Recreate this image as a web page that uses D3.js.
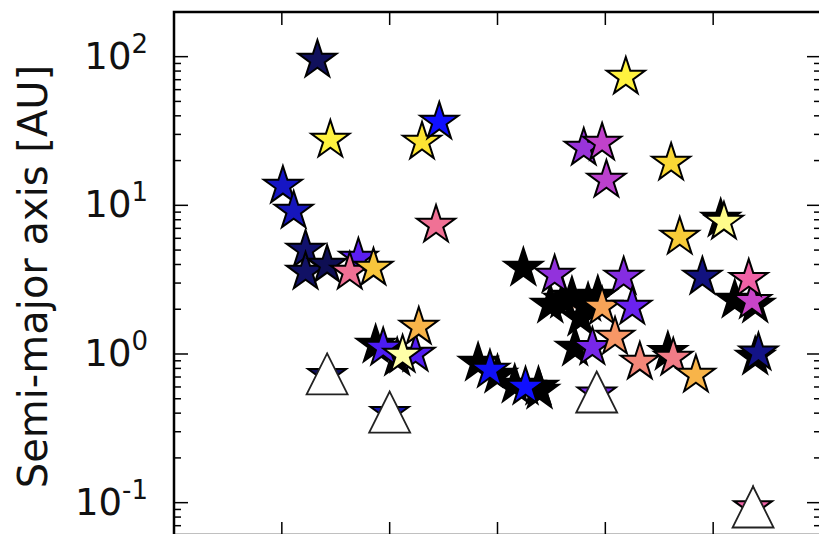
<!DOCTYPE html>
<html>
<head>
<meta charset="utf-8">
<script src="https://cdn.jsdelivr.net/npm/d3@7"></script>
<style>
  html, body { margin: 0; padding: 0; background: #ffffff; }
  svg { display: block; }
</style>
</head>
<body>
<svg id="chart" width="819" height="534"></svg>
<script>
// ---------------- DATA ----------------
// x: position along the (unlabelled) horizontal axis, in tick units
// a: semi-major axis [AU]
// c: colour value (0 = black ... 1 = pale yellow)
const starX = [
  3.24, 3.61, 3.84, 3.77, 3.72, 2.82, 3.16, 3.38, 1.87, 2.07, 5.20, 5.39, 5.39, 4.58, 5.07,
  3.49, 3.69, 3.93, 3.00, 3.39,
  1.33, 1.45, 1.01, 1.11, 1.22, 1.22, 1.42, 1.71, 1.63, 1.85,
  2.30, 2.46, 2.43,
  1.94, 2.24, 2.27, 2.12,
  2.93, 3.26,
  3.53, 4.17, 3.97, 4.25, 3.88, 4.09, 4.32, 4.63, 4.84,
  4.90, 5.36, 5.33, 5.42,
  4.19, 3.80, 3.97, 4.01, 4.61, 5.10, 4.69,
  1.42, 2.00, 3.92, 5.37
];
const starA = [
  3.79, 2.31, 2.20, 1.75, 1.10, 0.87, 0.62, 0.60, 1.15, 0.94, 2.31, 2.14, 0.955, 1.03, 8.09,
  2.14, 2.42, 2.46, 0.722, 0.564,
  94.9, 27.5, 13.5, 9.16, 5.01, 3.56, 3.97, 4.42, 3.56, 3.79,
  26.7, 36.4, 7.37,
  1.10, 1.00, 1.52, 0.985,
  0.78, 0.60,
  3.40, 3.30, 2.07, 2.07, 1.11, 1.30, 0.884, 0.94, 0.722,
  3.30, 2.27, 3.19, 1.02,
  73.0, 24.3, 26.3, 14.8, 19.3, 7.73, 6.12,
  0.72, 0.40, 0.54, 0.093
];
const starC = [
  0, 0, 0, 0, 0, 0, 0, 0, 0, 0, 0, 0, 0, 0, 0,
  0, 0, 0, 0, 0,
  0.10, 0.93, 0.22, 0.21, 0.12, 0.11, 0.09, 0.38, 0.66, 0.85,
  0.90, 0.28, 0.66,
  0.36, 0.37, 0.82, 1.00,
  0.27, 0.28,
  0.46, 0.44, 0.79, 0.40, 0.42, 0.76, 0.72, 0.69, 0.82,
  0.14, 0.54, 0.62, 0.15,
  0.93, 0.47, 0.53, 0.52, 0.88, 0.98, 0.86,
  0.10, 0.20, 0.42, 0.62
];
// upper-limit style open triangles
const limitX = [1.42, 2.00, 3.92, 5.37];
const limitA = [0.734, 0.407, 0.555, 0.0935];
// a single horizontal error bar
const errX0 = [3.58];
const errX1 = [3.97];
const errA  = [2.07];

const yTickVals = [0.1, 1, 10, 100];
const yTickExp  = ["-1", "0", "1", "2"];
const xTickVals = [1, 2, 3, 4, 5];

// ---------------- LAYOUT ----------------
const W = 819, H = 534;
const mLeft = 174, mTop = 12, mRight = 821, mBottom = 535;

const svg = d3.select("#chart");

const x = d3.scaleLinear().domain([0, 6]).range([mLeft, mRight]);
const y = d3.scaleLog().domain([0.0606, 199.7]).range([mBottom, mTop]);

const palStops = [0, 0.10, 0.22, 0.28, 0.40, 0.46, 0.54, 0.62, 0.68, 0.74, 0.80, 0.86, 0.92, 1.0];
const palCols  = ["#000000", "#10105c", "#1616c4", "#1010ff", "#6a22ee", "#9232dc", "#c844c8",
                  "#f062a6", "#f0788c", "#f68e70", "#f8a852", "#f8cc38", "#fff030", "#ffffa8"];
const color = d3.scaleLinear().domain(palStops).range(palCols).clamp(true);

// ---------------- AXES ----------------
const g = svg.append("g");

const yMinor = [];
for (let e = -2; e <= 2; e++) {
  for (let m = 2; m <= 9; m++) {
    const v = m * Math.pow(10, e);
    if (v > y.domain()[0] && v < y.domain()[1]) yMinor.push(v);
  }
}
g.selectAll(".yminL").data(yMinor).enter().append("line")
  .attr("x1", mLeft).attr("x2", mLeft + 7)
  .attr("y1", d => y(d)).attr("y2", d => y(d))
  .attr("stroke", "#000").attr("stroke-width", 1.5);
g.selectAll(".yminR").data(yMinor).enter().append("line")
  .attr("x1", mRight).attr("x2", mRight - 7)
  .attr("y1", d => y(d)).attr("y2", d => y(d))
  .attr("stroke", "#000").attr("stroke-width", 1.5);
g.selectAll(".ymajL").data(yTickVals).enter().append("line")
  .attr("x1", mLeft).attr("x2", mLeft + 14)
  .attr("y1", d => y(d)).attr("y2", d => y(d))
  .attr("stroke", "#000").attr("stroke-width", 1.5);
g.selectAll(".ymajR").data(yTickVals).enter().append("line")
  .attr("x1", mRight).attr("x2", mRight - 14)
  .attr("y1", d => y(d)).attr("y2", d => y(d))
  .attr("stroke", "#000").attr("stroke-width", 1.5);
g.selectAll(".xT").data(xTickVals).enter().append("line")
  .attr("x1", d => x(d)).attr("x2", d => x(d))
  .attr("y1", mTop).attr("y2", mTop + 13)
  .attr("stroke", "#000").attr("stroke-width", 1.5);
g.selectAll(".xB").data(xTickVals).enter().append("line")
  .attr("x1", d => x(d)).attr("x2", d => x(d))
  .attr("y1", mBottom).attr("y2", mBottom - 13)
  .attr("stroke", "#000").attr("stroke-width", 1.5);

const lab = g.selectAll(".ylab").data(yTickVals).enter().append("text")
  .attr("x", 148).attr("y", d => y(d) + 12)
  .attr("text-anchor", "end")
  .attr("font-family", "DejaVu Sans, sans-serif")
  .attr("font-size", 37)
  .attr("fill", "#111");
lab.append("tspan").text("10");
lab.append("tspan").attr("dy", -16).attr("font-size", 26).text((d, i) => yTickExp[i]);

g.append("text")
  .attr("transform", `translate(47, ${(mTop + mBottom) / 2 + 3}) rotate(-90)`)
  .attr("text-anchor", "middle")
  .attr("font-family", "DejaVu Sans, sans-serif")
  .attr("font-size", 40)
  .attr("fill", "#111")
  .text("Semi-major axis [AU]");

// ---------------- MARKS ----------------
const plot = svg.append("g");
const starR = 20;
const starPath = d3.symbol().type(d3.symbolStar).size(starR * starR / 0.8908130915292852)();

plot.selectAll(".err").data(errA).enter().append("line")
  .attr("x1", (d, i) => x(errX0[i])).attr("x2", (d, i) => x(errX1[i]))
  .attr("y1", d => y(d)).attr("y2", d => y(d))
  .attr("stroke", "#f0b090").attr("stroke-width", 3);

plot.selectAll(".star").data(starA).enter().append("path")
  .attr("d", starPath)
  .attr("transform", (d, i) => `translate(${x(starX[i])},${y(d)})`)
  .attr("fill", (d, i) => color(starC[i]))
  .attr("stroke", "#000")
  .attr("stroke-width", 2)
  .attr("stroke-linejoin", "miter");

const triH = 20.5;
const triPath = `M0,${-triH}L${triH},${triH}L${-triH},${triH}Z`;
plot.selectAll(".lim").data(limitA).enter().append("path")
  .attr("d", triPath)
  .attr("transform", (d, i) => `translate(${x(limitX[i])},${y(d)})`)
  .attr("fill", "#ffffff")
  .attr("stroke", "#222")
  .attr("stroke-width", 1.8);

svg.append("rect")
  .attr("x", mLeft).attr("y", mTop)
  .attr("width", mRight - mLeft).attr("height", mBottom - mTop)
  .attr("fill", "none").attr("stroke", "#000").attr("stroke-width", 2.5);
</script>
</body>
</html>
